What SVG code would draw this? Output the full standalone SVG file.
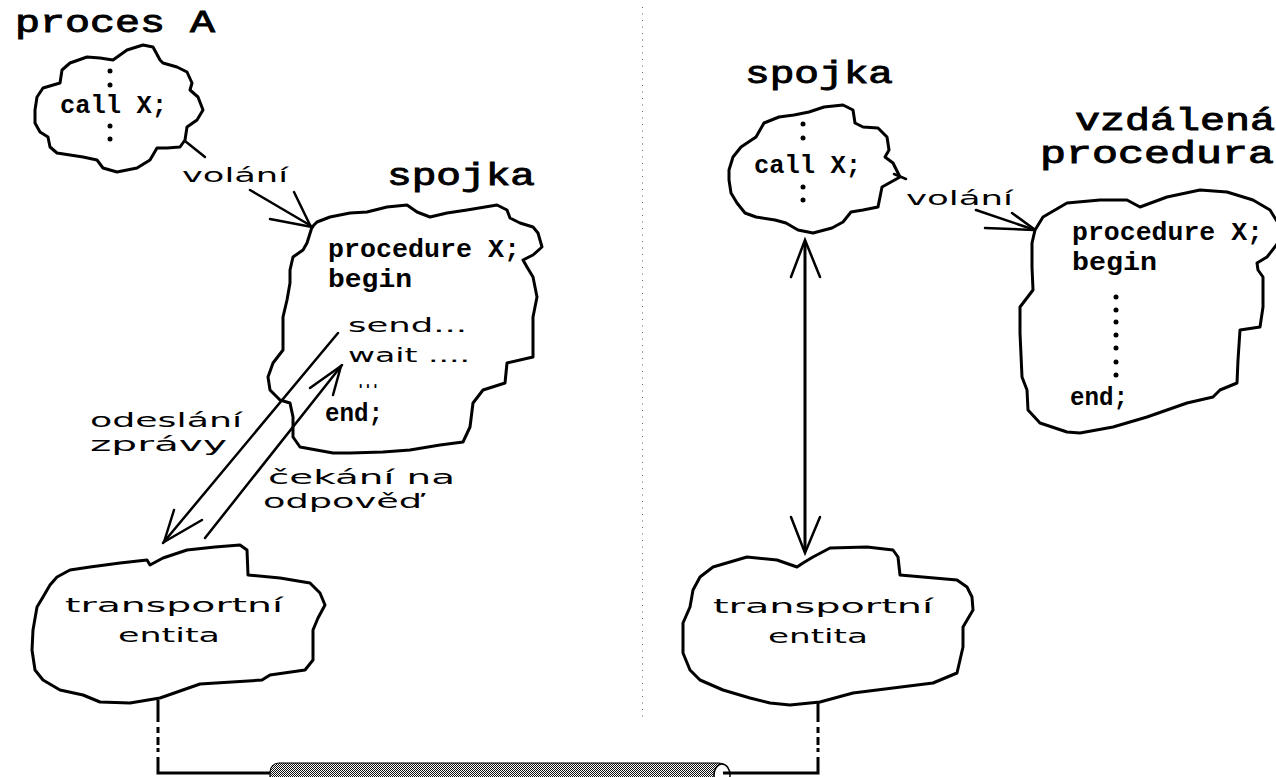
<svg xmlns="http://www.w3.org/2000/svg" width="1276" height="777" viewBox="0 0 1276 777">
<style>
.cl{fill:none;stroke:#000;stroke-width:3;stroke-linejoin:round;stroke-linecap:round}
.ln{fill:none;stroke:#000;stroke-width:2.5;stroke-linecap:round}
.th{fill:none;stroke:#000;stroke-width:3}
.t{font-family:"Liberation Mono",monospace;font-size:31px;font-weight:normal;stroke:#000;stroke-width:0.9}
.c{font-family:"Liberation Mono",monospace;font-size:25px;font-weight:bold}
.s{font-family:"DejaVu Sans",sans-serif;font-size:20px}
</style>
<defs>
<pattern id="dither" width="2" height="2" patternUnits="userSpaceOnUse">
<rect width="2" height="2" fill="#fff"/><rect width="1" height="1" fill="#111"/><rect x="1" y="1" width="1" height="1" fill="#111"/>
</pattern>
</defs>
<rect width="1276" height="777" fill="#fff"/>

<line x1="642.5" y1="7" x2="642.5" y2="718" stroke="#666" stroke-width="1" stroke-dasharray="1 5.5"/>

<text class="t" x="15" y="32" textLength="200" lengthAdjust="spacingAndGlyphs">proces A</text>

<g id="callA">
<polygon class="cl" points="35,110 37,97 43,88 60,83 62,70 70,63 87,57 100,58 113,60 127,50 143,45 153,47 160,60 163,63 177,67 187,72 192,83 190,90 198,97 203,110 197,120 187,127 185,140 180,147 167,148 157,148 150,160 137,168 117,172 103,168 97,160 83,157 57,153 50,147 48,137 40,132 35,123"/>
<line class="ln" x1="185" y1="141" x2="205" y2="157"/>
<text class="c" x="60" y="113" textLength="107" lengthAdjust="spacingAndGlyphs">call X;</text>
<g fill="#000"><circle cx="110" cy="71" r="2.5"/><circle cx="110" cy="85" r="2.5"/><circle cx="110" cy="126" r="2.5"/><circle cx="110" cy="139" r="2.5"/></g>
</g>

<g id="spojkaA">
<text class="t" x="387" y="185" textLength="148" lengthAdjust="spacingAndGlyphs">spojka</text>
<polygon class="cl" points="312,227 317,222 330,217 350,213 367,212 387,207 407,205 417,212 430,217 447,213 467,210 497,205 507,210 510,218 520,223 533,227 538,233 542,247 533,255 523,260 527,267 533,277 537,297 533,317 533,357 507,363 505,383 483,390 473,403 470,427 463,442 440,445 410,450 383,452 350,453 333,453 300,447 293,437 293,417 290,403 280,400 270,390 268,377 273,363 283,350 283,317 287,300 290,283 290,270 293,257 303,250 307,243"/>
<text class="c" x="328" y="257" textLength="192" lengthAdjust="spacingAndGlyphs">procedure X;</text>
<text class="c" x="328" y="287" textLength="84" lengthAdjust="spacingAndGlyphs">begin</text>
<text class="s" x="348" y="332" textLength="119" lengthAdjust="spacingAndGlyphs">send...</text>
<text class="s" x="348" y="362" textLength="122" lengthAdjust="spacingAndGlyphs">wait ....</text>
<text class="c" x="357" y="388" textLength="22" lengthAdjust="spacingAndGlyphs">...</text>
<text class="c" x="325" y="421" textLength="58" lengthAdjust="spacingAndGlyphs">end;</text>
</g>

<g id="transportA">
<polygon class="cl" points="150,565 163,558 187,550 215,547 240,545 247,550 248,575 280,578 310,583 320,593 325,605 318,618 313,630 313,660 305,670 270,675 262,680 200,684 160,698 130,703 100,702 83,695 60,690 43,680 35,670 32,650 33,630 37,607 43,597 50,585 57,577 70,570 90,567 120,563 147,560"/>
<text class="s" x="65" y="612" textLength="218" lengthAdjust="spacingAndGlyphs">transportní</text>
<text class="s" x="118" y="642" textLength="102" lengthAdjust="spacingAndGlyphs">entita</text>
</g>

<g id="spojkaB">
<text class="t" x="745" y="83" textLength="148" lengthAdjust="spacingAndGlyphs">spojka</text>
<polygon class="cl" points="729,170 733,157 741,147 756,137 764,123 779,117 794,115 809,112 824,107 843,105 853,110 855,123 863,127 878,128 887,137 889,150 885,157 893,163 900,177 891,182 882,187 880,197 878,207 863,210 851,212 843,222 832,228 813,233 798,230 786,223 775,220 756,217 745,213 737,203 731,193 729,180"/>
<line class="ln" x1="894" y1="174" x2="906" y2="179"/>
<text class="c" x="754" y="173" textLength="107" lengthAdjust="spacingAndGlyphs">call X;</text>
<g fill="#000"><circle cx="803" cy="124" r="2.5"/><circle cx="803" cy="138" r="2.5"/><circle cx="803" cy="187" r="2.5"/><circle cx="803" cy="200" r="2.5"/></g>
</g>

<g id="proceduraB">
<text class="t" x="1075" y="130" textLength="200" lengthAdjust="spacingAndGlyphs">vzdálená</text>
<text class="t" x="1040" y="163" textLength="234" lengthAdjust="spacingAndGlyphs">procedura</text>
<polygon class="cl" points="1035,230 1043,217 1067,203 1100,200 1127,200 1140,207 1167,197 1200,190 1227,192 1253,200 1270,210 1278,223 1278,243 1267,257 1257,263 1258,270 1263,277 1263,307 1260,327 1240,330 1238,360 1237,383 1220,390 1213,397 1187,403 1147,417 1113,427 1080,433 1067,432 1040,423 1028,410 1027,390 1022,377 1020,333 1020,307 1033,290 1032,267 1032,243"/>
<text class="c" x="1072" y="240" textLength="191" lengthAdjust="spacingAndGlyphs">procedure X;</text>
<text class="c" x="1072" y="270" textLength="85" lengthAdjust="spacingAndGlyphs">begin</text>
<g fill="#000"><circle cx="1116" cy="297" r="2.5"/><circle cx="1116" cy="310" r="2.5"/><circle cx="1116" cy="322" r="2.5"/><circle cx="1116" cy="335" r="2.5"/><circle cx="1116" cy="348" r="2.5"/><circle cx="1116" cy="362" r="2.5"/><circle cx="1116" cy="375" r="2.5"/></g>
<text class="c" x="1070" y="405" textLength="58" lengthAdjust="spacingAndGlyphs">end;</text>
</g>

<g id="transportB">
<polygon class="cl" points="803,563 797,567 777,560 747,557 713,567 700,577 693,590 690,607 683,623 683,653 690,670 700,680 723,690 750,698 770,703 790,705 820,702 853,693 893,688 933,683 957,673 960,660 963,647 963,627 973,610 972,597 967,587 957,580 900,575 898,557 893,550 867,547 830,548 813,557"/>
<text class="s" x="713" y="613" textLength="220" lengthAdjust="spacingAndGlyphs">transportní</text>
<text class="s" x="768" y="643" textLength="100" lengthAdjust="spacingAndGlyphs">entita</text>
</g>

<g id="pipe">
<rect x="270" y="763" width="458" height="26" rx="9" fill="url(#dither)" stroke="#000" stroke-width="1.2"/>
<ellipse cx="722" cy="775" rx="8" ry="11" fill="#fff" stroke="#000" stroke-width="1.5"/>
</g>

<g id="connectors">
<text class="s" x="182" y="182" textLength="106" lengthAdjust="spacingAndGlyphs">volání</text>
<line class="ln" x1="250" y1="190" x2="313" y2="227"/>
<line class="ln" x1="294" y1="192" x2="310" y2="225"/>
<line class="ln" x1="270" y1="219" x2="312" y2="227"/>

<line class="ln" x1="338" y1="333" x2="163" y2="543"/>
<line class="ln" x1="174" y1="510" x2="164" y2="542"/>
<line class="ln" x1="202" y1="520" x2="164" y2="542"/>
<line class="ln" x1="205" y1="538" x2="342" y2="365"/>
<line class="ln" x1="310" y1="388" x2="341" y2="366"/>
<line class="ln" x1="333" y1="395" x2="341" y2="366"/>
<text class="s" x="90" y="427" textLength="152" lengthAdjust="spacingAndGlyphs">odeslání</text>
<text class="s" x="90" y="451" textLength="137" lengthAdjust="spacingAndGlyphs">zprávy</text>
<text class="s" x="268" y="484" textLength="187" lengthAdjust="spacingAndGlyphs">čekání na</text>
<text class="s" x="263" y="508" textLength="159" lengthAdjust="spacingAndGlyphs">odpověď</text>

<text class="s" x="906" y="205" textLength="107" lengthAdjust="spacingAndGlyphs">volání</text>
<line class="ln" x1="976" y1="210" x2="1035" y2="230"/>
<line class="ln" x1="1012" y1="213" x2="1034" y2="229"/>
<line class="ln" x1="985" y1="228" x2="1034" y2="230"/>

<line class="th" x1="805" y1="242" x2="805" y2="552"/>
<polyline class="ln" points="791,277 805,240 820,277"/>
<polyline class="ln" points="791,517 805,553 820,517"/>

<path class="th" d="M158,700 V722 M158,727 V733 M158,737 V745 M158,748 V752 M158,757 V773 H270"/>
<path class="th" d="M818,703 V722 M818,727 V733 M818,737 V745 M818,748 V752 M818,757 V773 H723"/>
</g>
</svg>
